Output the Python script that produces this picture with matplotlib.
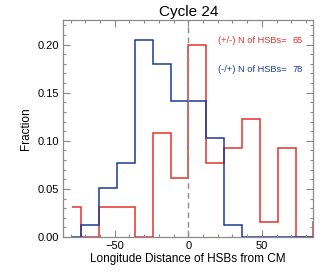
import matplotlib
matplotlib.use('Agg')
import matplotlib.pyplot as plt
from matplotlib.ticker import MultipleLocator, FormatStrFormatter

plt.rcParams['font.family'] = ['Liberation Sans', 'DejaVu Sans']

# bin edges (longitude distance, deg)
edges_pos = [-78.9, -72.9, -60.7, -48.6, -36.4, -24.3, -12.1, 0.0,
             12.1, 24.3, 36.4, 48.6, 60.7, 72.9, 85.0, 91.0]
# (+/-) counts per bin, N = 65
counts_pos = [2, 0, 2, 2, 0, 7, 4, 13, 5, 6, 8, 1, 6, 0, 1]
n_pos = 65

edges_neg = [-78.9, -72.9, -60.7, -48.6, -36.4, -24.3, -12.1, 0.0,
             12.1, 24.3, 36.4, 85.0]
# (-/+) counts per bin, N = 78
counts_neg = [0, 1, 4, 6, 16, 14, 11, 11, 8, 1, 0]
n_neg = 78

frac_pos = [c / n_pos for c in counts_pos]
frac_neg = [c / n_neg for c in counts_neg]

red = '#e8302c'
blue = '#1c3a98'
grey = '#8a8a8a'

fig = plt.figure(figsize=(3.32, 2.77), dpi=100)
ax = fig.add_axes([0.1907, 0.1444, 0.753, 0.7834])

ax.stairs(frac_pos, edges_pos, baseline=None, color=red, linewidth=1.1)
ax.stairs(frac_neg, edges_neg, baseline=None, color=blue, linewidth=1.1)
ax.axvline(0, color=grey, linestyle=(0, (4, 3)), linewidth=1.0)

ax.set_xlim(-85, 85)
ax.set_ylim(0, 0.2256)

ax.xaxis.set_major_locator(MultipleLocator(50))
ax.xaxis.set_minor_locator(MultipleLocator(10))
ax.yaxis.set_major_locator(MultipleLocator(0.05))
ax.yaxis.set_minor_locator(MultipleLocator(0.01))
ax.yaxis.set_major_formatter(FormatStrFormatter('%.2f'))

ax.tick_params(which='both', direction='in', top=True, right=True,
               color=grey, labelsize=8, pad=3)
ax.tick_params(which='major', length=5, width=0.8)
ax.tick_params(which='minor', length=2.5, width=0.8)
for s in ax.spines.values():
    s.set_color(grey)
    s.set_linewidth(0.9)

ax.set_title('Cycle 24', fontsize=11, pad=3)
ax.set_xlabel('Longitude Distance of HSBs from CM', fontsize=8.5, labelpad=1)
ax.set_ylabel('Fraction', fontsize=8.5, labelpad=4)

ax.text(0.617, 0.905, '(+/-) N of HSBs=', transform=ax.transAxes,
        color=red, fontsize=6.7, ha='left', va='center')
ax.text(0.956, 0.905, '%d' % n_pos, transform=ax.transAxes,
        color=red, fontsize=6.7, ha='right', va='center')
ax.text(0.617, 0.77, '(-/+) N of HSBs=', transform=ax.transAxes,
        color=blue, fontsize=6.7, ha='left', va='center')
ax.text(0.956, 0.77, '%d' % n_neg, transform=ax.transAxes,
        color=blue, fontsize=6.7, ha='right', va='center')

fig.savefig('out.png', dpi=100)
